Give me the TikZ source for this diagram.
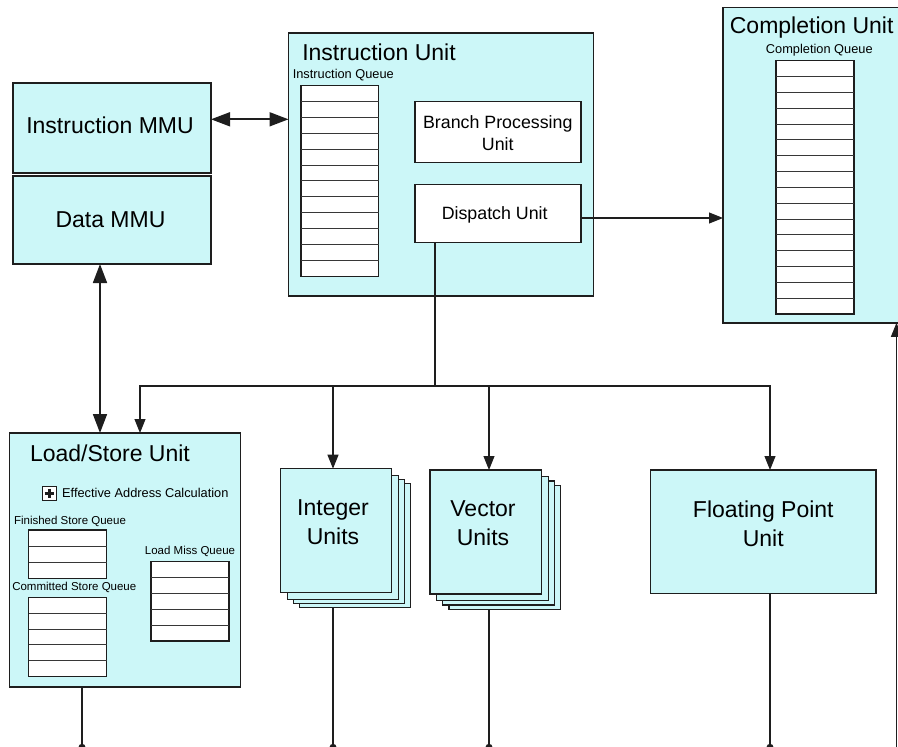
\documentclass[tikz,border=0pt]{standalone}
\usepackage{fontspec}
\setmainfont{Liberation Sans}
\usetikzlibrary{arrows.meta,calc}
\definecolor{cyanfill}{RGB}{204,247,248}
\definecolor{linec}{RGB}{30,30,30}
\definecolor{qlinec}{RGB}{55,55,55}
\definecolor{busc}{RGB}{120,120,120}
\newcommand{\qlines}[2]{%
  \pgfmathtruncatemacro\qm{#2-1}%
  \foreach \k in {1,...,\qm}{%
    \draw[qline] ($(#1.north west)!\k/#2!(#1.south west)$) -- ($(#1.north east)!\k/#2!(#1.south east)$);}}
\begin{document}
\begin{tikzpicture}[x=1pt,y=-1pt,
  unit/.style={draw=linec, fill=cyanfill, line width=1.4pt, inner sep=0pt, outer sep=0pt, anchor=north west},
  wbox/.style={draw=linec, fill=white, line width=1.2pt, inner sep=0pt, outer sep=0pt, anchor=north west},
  qline/.style={draw=qlinec, line width=1pt},
  fbig/.style={font=\fontsize{23}{29}\selectfont, align=center, inner sep=0pt},
  fmid/.style={font=\fontsize{17.8}{22.3}\selectfont, align=center, inner sep=0pt},
  fsmall/.style={font=\fontsize{12.8}{15}\selectfont, inner sep=0pt},
  ftiny/.style={font=\fontsize{11.5}{14}\selectfont, inner sep=0pt},
  conn/.style={draw=linec, line width=1.1pt},
  arr/.style={conn, -{Triangle[length=14pt,width=11pt]}},
  darr/.style={draw=linec, line width=1.7pt, {Triangle[length=19pt,width=14pt]}-{Triangle[length=19pt,width=14pt]}}
]
\useasboundingbox (0,0) rectangle (898,747);
\clip (0,0) rectangle (898,747);

% helper coordinates
\coordinate (y119) at (0,119.3);
\coordinate (y218) at (0,218);
\coordinate (xdm) at (100,0);
\coordinate (busL) at (140,386);
\coordinate (bj) at (435,386);
\coordinate (busR) at (770,386);
\coordinate (xls) at (82,0);
\coordinate (xint) at (333,0);
\coordinate (xvec) at (489,0);
\coordinate (xfp) at (770,0);
\coordinate (xcu) at (896.5,0);
\coordinate (busB) at (0,747.3);
\coordinate (busBL) at (82,747.3);
\coordinate (busBR) at (898,747.3);

% MMUs
\node[unit, minimum width=198pt, minimum height=90pt] (imu) at (13,83) {};
\node[fbig, anchor=base] (imut) at (110,133.3) {Instruction MMU};
\node[unit, minimum width=198pt, minimum height=88pt] (dmmu) at (13,176) {};
\node[fbig, anchor=base] (dmmut) at (110.5,227.3) {Data MMU};

% Instruction Unit
\node[unit, minimum width=305pt, minimum height=263pt] (iu) at (288.5,33) {};
\node[fbig, anchor=base] (iut) at (379,60) {Instruction Unit};
\node[fsmall, anchor=base] (iqt) at (343.3,78.6) {Instruction Queue};
\node[wbox, minimum width=77.5pt, minimum height=190.5pt] (iq) at (301,85.7) {};
\qlines{iq}{12}
\node[wbox, minimum width=166pt, minimum height=61.5pt] (bpu) at (415,101.3) {};
\node[fmid] (bput) at (497.8,132.8) {Branch Processing\\Unit};
\node[wbox, minimum width=166pt, minimum height=58.5pt] (disp) at (415,184.3) {};
\node[fmid, anchor=base] (dispt) at (494.7,219.7) {Dispatch Unit};

% Completion Unit
\node[unit, minimum width=200pt, minimum height=315.5pt] (cu) at (723,7.3) {};
\node[fbig, anchor=base] (cut) at (811.7,33.3) {Completion Unit};
\node[fsmall, anchor=base] (cqt) at (819.3,53.9) {Completion Queue};
\node[wbox, minimum width=78pt, minimum height=253.3pt] (cq) at (776,60.7) {};
\qlines{cq}{16}

% Load/Store Unit
\node[unit, minimum width=231pt, minimum height=254pt] (lsu) at (9.3,433) {};
\node[fbig, anchor=base] (lsut) at (110,461.3) {Load/Store Unit};
\node[draw=linec, fill=white, line width=1pt, minimum width=14pt, minimum height=14pt, inner sep=0pt, anchor=north west] (plus) at (42,486) {};
\draw[linec, line width=2.4pt] ($(plus.center)+(-4.8,0)$) -- ($(plus.center)+(4.8,0)$);
\draw[linec, line width=2.4pt] ($(plus.center)+(0,-4.8)$) -- ($(plus.center)+(0,4.8)$);
\node[fsmall, anchor=base west] (eac) at (62,497.9) {Effective Address Calculation};
\node[ftiny, anchor=base] (fsqt) at (70,524.1) {Finished Store Queue};
\node[wbox, minimum width=78pt, minimum height=48.3pt] (fsq) at (28.7,530) {};
\qlines{fsq}{3}
\node[ftiny, anchor=base] (csqt) at (74.3,590.8) {Committed Store Queue};
\node[wbox, minimum width=78pt, minimum height=79.4pt] (csq) at (28.7,597.3) {};
\qlines{csq}{5}
\node[ftiny, anchor=base] (lmqt) at (190,554.1) {Load Miss Queue};
\node[wbox, minimum width=78pt, minimum height=79.3pt] (lmq) at (151,561.7) {};
\qlines{lmq}{5}

% Integer Units (stack)
\node[unit, minimum width=111pt, minimum height=123.5pt] (int4) at (299.2,483.7) {};
\node[unit, minimum width=111pt, minimum height=123.5pt] (int3) at (293.2,479.7) {};
\node[unit, minimum width=111pt, minimum height=123.5pt] (int2) at (287.2,475.7) {};
\node[unit, minimum width=111pt, minimum height=123.5pt] (int) at (280.7,468.7) {};
\node[fbig] (intt) at (333,521.7) {Integer\\Units};

% Vector Units (stack)
\node[unit, minimum width=111.7pt, minimum height=124pt] (vec4) at (449,485.3) {};
\node[unit, minimum width=111.7pt, minimum height=124pt] (vec3) at (442.7,481) {};
\node[unit, minimum width=111.7pt, minimum height=124pt] (vec2) at (436.7,476.7) {};
\node[unit, minimum width=111.7pt, minimum height=124pt] (vec) at (430,470) {};
\node[fbig] (vect) at (483,522.7) {Vector\\Units};

% Floating Point Unit
\node[unit, minimum width=225.3pt, minimum height=123.3pt] (fpu) at (650.7,470) {};
\node[fbig] (fput) at (763.3,524.2) {Floating Point\\Unit};

% connectors
\draw[darr] (imu.east |- y119) -- (iu.west |- y119);
\draw[darr] (dmmu.south -| xdm) -- (lsu.north -| xdm);
\draw[arr] (disp.east |- y218) -- (cu.west |- y218);
\draw[conn] (disp.south -| bj) -- (bj);
\draw[arr] (bj) -| (lsu.north -| busL);
\draw[arr] (bj) -| (fpu.north -| busR);
\draw[arr] (xint |- bj) -- (int.north -| xint);
\draw[arr] (xvec |- bj) -- (vec.north -| xvec);

% bottom bus
\draw[busc, line width=1pt] (busBL) -- (busBR);
\draw[conn] (lsu.south -| xls) -- (xls |- busB);
\draw[conn] (int4.south -| xint) -- (xint |- busB);
\draw[conn] (vec4.south -| xvec) -- (xvec |- busB);
\draw[conn] (fpu.south -| xfp) -- (xfp |- busB);
\draw[arr] (xcu |- busB) -- (cu.south -| xcu);
\foreach \c in {xls,xint,xvec,xfp}{\fill[linec] (\c |- busB) circle[radius=3.5pt];}
\end{tikzpicture}
\end{document}
